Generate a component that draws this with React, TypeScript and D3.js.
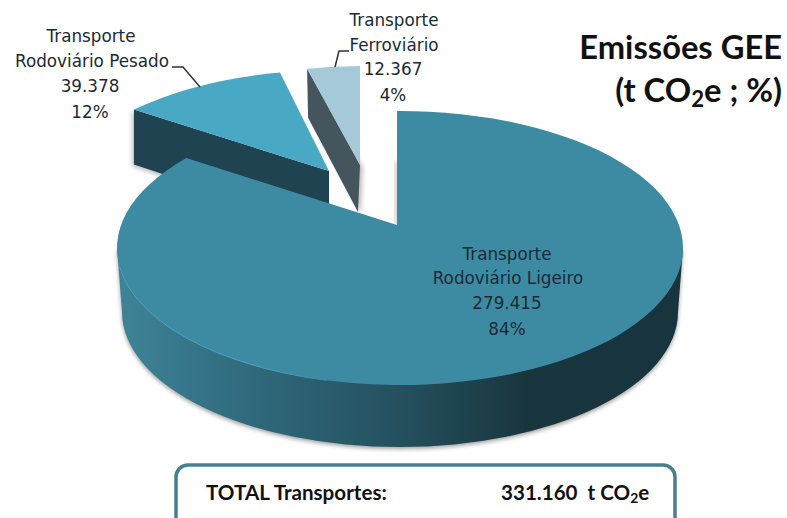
import React from "react";
import * as d3 from "d3";

const categories = ["Transporte Rodoviário Ligeiro", "Transporte Rodoviário Pesado", "Transporte Ferroviário"];
const values = [279415, 39378, 12367];
const valueLabels = ["279.415", "39.378", "12.367"];
const percentLabels = ["84%", "12%", "4%"];
const totalLabel = "331.160";

const W = 787, H = 518;
const RX = 283, RY = 137;
const rad = Math.PI / 180;

// Exploded slice placement
const centers = [[400, 248], [333, 207], [364, 203]];
const apexes = [[397, 225], [329, 171], [360, 165]];
const depths = [62, 58, 47];
const drawnSpans = [[-0.6, 311], [315.3, 349.2], [348.4, 359.2]];

const pieArcs = d3.pie<number>().sort(null)(values);

function App() {
  const slices = pieArcs.map((a, i) => {
    const angle = d3.scaleLinear().domain([a.startAngle, a.endAngle]).range(drawnSpans[i]);
    const [cx, cy] = centers[i];
    const pt = (deg: number) => [cx + RX * Math.sin(deg * rad), cy - RY * Math.cos(deg * rad)];
    const s = pt(angle(a.startAngle));
    const e = pt(angle(a.endAngle));
    const large = angle(a.endAngle) - angle(a.startAngle) > 180 ? 1 : 0;
    const [ax, ay] = apexes[i];
    const top = `M${ax},${ay}L${s[0]},${s[1]}A${RX},${RY} 0 ${large} 1 ${e[0]},${e[1]}Z`;
    return { s, e, ax, ay, top, cx, cy, d: depths[i], pt };
  });
  const [m, h, l] = slices;
  const rb = 278, ryb = 135, by = m.cy + 64;
  const mainWall = `M${m.cx + RX},${m.cy}L${m.cx + rb},${by}A${rb},${ryb} 0 0 1 ${m.cx - rb},${by}L${m.cx - RX},${m.cy}Z`;
  const heavyFace = `M${h.s[0]},${h.s[1]}L${h.ax},${h.ay}L${h.ax},${h.ay + h.d}L${h.s[0]},${h.s[1] + h.d - 3}Z`;
  const lightFace = `M${l.s[0]},${l.s[1]}L${l.ax},${l.ay}L${l.ax - 2},${l.ay + l.d}L${l.s[0] + 1},${l.s[1] + 49}Z`;
  const rimA = m.pt(262), rimB = m.pt(195);

  const labelFont = "'DejaVu Sans', Verdana, sans-serif";
  const titleFont = "Lato, 'Open Sans', sans-serif";
  const lbl = { fontFamily: labelFont, fontSize: 16.8, fill: "#1c2a33", textAnchor: "middle" as const };
  const sub = { fontSize: "0.68em", baselineShift: "-22%" } as any;

  return (
    <svg width={W} height={H} viewBox={`0 0 ${W} ${H}`} style={{ position: "absolute", left: 0, top: 0, background: "#fff" }}>
      <defs>
        <linearGradient id="wall" x1="0" x2="1" y1="0" y2="0">
          <stop offset="0" stopColor="#3f8498" />
          <stop offset="0.25" stopColor="#2f687b" />
          <stop offset="0.5" stopColor="#24505e" />
          <stop offset="0.72" stopColor="#19363f" />
          <stop offset="1" stopColor="#17343f" />
        </linearGradient>
        <linearGradient id="rim" x1="0" x2="1" y1="0" y2="0">
          <stop offset="0" stopColor="#4da3bb" />
          <stop offset="0.7" stopColor="#4da3bb" />
          <stop offset="1" stopColor="#3c8ba3" />
        </linearGradient>
        <filter id="soft" x="-10%" y="-10%" width="120%" height="125%">
          <feGaussianBlur stdDeviation="2" />
        </filter>
      </defs>

      {/* Heavy slice */}
      <path d={heavyFace} fill="#999" filter="url(#soft)" transform="translate(-2,2)" opacity={0.6} />
      <path d={heavyFace} fill="#1f4350" />
      <path d={h.top} fill="#49a8c3" />

      {/* Rail slice */}
      <path d={lightFace} fill="#999" filter="url(#soft)" transform="translate(3,2)" opacity={0.6} />
      <path d={lightFace} fill="#44555e" />
      <path d={l.top} fill="#a5c9d9" />

      {/* Main slice */}
      <path d={mainWall} fill="#777" filter="url(#soft)" transform="translate(0,2)" opacity={0.7} />
      <path d={`M${m.ax - 2},${m.ay}L${m.ax - 2},${m.s[1] + 50}L${m.ax},${m.s[1] + 50}L${m.ax},${m.ay}Z`} fill="#666" filter="url(#soft)" opacity={0.6} />
      <path d={mainWall} fill="url(#wall)" />
      <path d={m.top} fill="#3c8ba3" />
      <path d={`M${rimA[0]},${rimA[1]}A${RX},${RY} 0 0 0 ${rimB[0]},${rimB[1]}`} fill="none" stroke="url(#rim)" strokeWidth={1} />

      {/* Leader lines */}
      <path d={d3.line()([[172, 67], [183, 67], [200, 87]]) ?? ""} fill="none" stroke="#333" strokeWidth={1.5} />
      <path d={d3.line()([[349, 51], [339, 51], [335, 67]]) ?? ""} fill="none" stroke="#333" strokeWidth={1.5} />

      {/* Labels */}
      <g {...lbl}>
        <text x={507} y={260}>Transporte</text>
        <text x={508} y={284}>Rodoviário Ligeiro</text>
        <text x={507} y={309}>{valueLabels[0]}</text>
        <text x={507} y={335}>{percentLabels[0]}</text>

        <text x={91} y={42}>Transporte</text>
        <text x={92} y={67}>Rodoviário Pesado</text>
        <text x={90} y={92}>{valueLabels[1]}</text>
        <text x={90} y={118}>{percentLabels[1]}</text>

        <text x={394} y={26}>Transporte</text>
        <text x={394} y={51}>Ferroviário</text>
        <text x={393} y={75}>{valueLabels[2]}</text>
        <text x={393} y={101}>{percentLabels[2]}</text>
      </g>

      {/* Title */}
      <g fontFamily={titleFont} fontWeight={700} fontSize={32.7} fill="#111" textAnchor="end">
        <text x={782} y={59}>Emissões GEE</text>
        <text x={782} y={102}>(t CO<tspan {...sub}>2</tspan>e ; %)</text>
      </g>

      {/* Total box */}
      <rect x={176} y={465} width={499} height={70} rx={12} fill="#fff" stroke="#487f8c" strokeWidth={3.5} />
      <g fontFamily={titleFont} fontWeight={700} fontSize={20.6} fill="#111">
        <text x={206} y={500}>TOTAL Transportes:</text>
        <text x={501} y={500}>{totalLabel}{"\u00a0 "}t CO<tspan {...sub}>2</tspan>e</text>
      </g>
      <title>{categories.join(", ")}</title>
    </svg>
  );
}

export default App;
